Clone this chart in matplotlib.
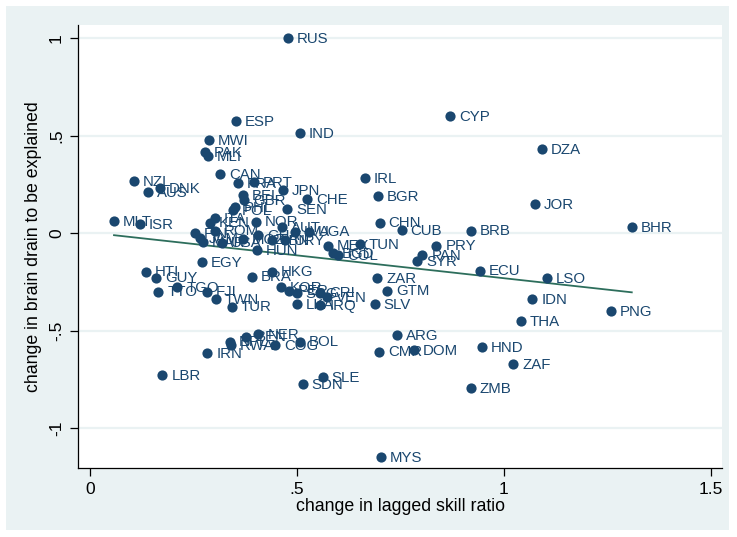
import matplotlib
matplotlib.use("Agg")
import matplotlib.pyplot as plt
from matplotlib.patches import Rectangle
import numpy as np

plt.rcParams['font.family'] = ['Liberation Sans', 'DejaVu Sans']

# country codes and values
codes = ["RUS", "ESP", "IND", "CYP", "DZA", "MWI", "PAK", "MLI", "NZL", "DNK",
         "AUS", "CAN", "FRA", "PRT", "JPN", "IRL", "BGR", "CHE", "BEL", "GBR",
         "PHL", "POL", "SEN", "CHN", "CUB", "BRB", "JOR", "BHR", "MLT", "ISR",
         "ITA", "KEN", "NOR", "AUT", "LVA", "UGA", "URY", "LBN", "HUN", "FIN",
         "ROM", "JAM", "MAR", "USA", "MOZ", "GHA", "MEX", "TUN", "BGD", "COL",
         "PRY", "PAN", "SYR", "ECU", "LSO", "IDN", "THA", "PNG", "ZAR", "GTM",
         "SLV", "EGY", "HTI", "GUY", "TTO", "TGO", "FJI", "TWN", "TUR", "BRA",
         "HKG", "KOR", "PER", "SCG", "CRI", "VEN", "LKA", "IRQ", "ARG", "CMR",
         "DOM", "HND", "ZAF", "ZMB", "MYS", "IRN", "NPL", "RWA", "BEN", "NER",
         "COG", "BOL", "LBR", "SDN", "SLE"]

skill = [0.478, 0.353, 0.507, 0.870, 1.092, 0.287, 0.278, 0.285, 0.106, 0.169,
         0.140, 0.314, 0.357, 0.396, 0.466, 0.664, 0.696, 0.524, 0.369, 0.372,
         0.350, 0.346, 0.476, 0.700, 0.753, 0.920, 1.075, 1.309, 0.058, 0.121,
         0.302, 0.290, 0.401, 0.464, 0.495, 0.529, 0.470, 0.439, 0.403, 0.254,
         0.302, 0.266, 0.273, 0.319, 0.369, 0.406, 0.575, 0.652, 0.587, 0.599,
         0.837, 0.803, 0.791, 0.942, 1.103, 1.069, 1.041, 1.258, 0.694, 0.717,
         0.688, 0.271, 0.135, 0.159, 0.165, 0.211, 0.283, 0.304, 0.342, 0.391,
         0.440, 0.461, 0.481, 0.499, 0.556, 0.573, 0.499, 0.556, 0.742, 0.699,
         0.783, 0.946, 1.022, 0.920, 0.703, 0.283, 0.338, 0.340, 0.378, 0.407,
         0.447, 0.507, 0.175, 0.514, 0.562]

brain = [1.000, 0.574, 0.513, 0.600, 0.431, 0.477, 0.415, 0.395, 0.267, 0.231,
         0.210, 0.303, 0.256, 0.262, 0.221, 0.282, 0.190, 0.174, 0.195, 0.169,
         0.133, 0.118, 0.123, 0.054, 0.015, 0.012, 0.149, 0.031, 0.062, 0.044,
         0.077, 0.054, 0.058, 0.032, 0.007, 0.007, -0.036, -0.036, -0.087, -0.002,
         0.012, -0.026, -0.045, -0.050, -0.031, -0.010, -0.065, -0.056, -0.103, -0.113,
         -0.065, -0.114, -0.144, -0.193, -0.232, -0.340, -0.451, -0.400, -0.231, -0.296,
         -0.364, -0.150, -0.198, -0.229, -0.301, -0.278, -0.301, -0.338, -0.378, -0.224,
         -0.198, -0.278, -0.296, -0.309, -0.306, -0.330, -0.364, -0.369, -0.523, -0.609,
         -0.600, -0.585, -0.672, -0.795, -1.149, -0.617, -0.557, -0.574, -0.532, -0.518,
         -0.574, -0.557, -0.728, -0.776, -0.740]

xticks = [0, 0.5, 1, 1.5]
xticklabels = ["0", ".5", "1", "1.5"]
yticks = [-1, -0.5, 0, 0.5, 1]
yticklabels = ["-1", "-.5", "0", ".5", "1"]

navy = "#1a476f"
bg = "#eaf2f3"

fig = plt.figure(figsize=(7.37, 5.37), dpi=100, facecolor="white")
# light panel behind the plot area
fig.add_artist(Rectangle((6 / 737, 7 / 537), 723 / 737, 524 / 537,
                         transform=fig.transFigure, facecolor=bg,
                         edgecolor="none", zorder=-10))
ax = fig.add_axes([78 / 737, 1 - 468 / 537, 644 / 737, 443 / 537])
ax.set_facecolor("white")

x = np.array(skill)
y = np.array(brain)
ax.scatter(x, y, s=54, color=navy, zorder=3, linewidths=0)
for c, xi, yi in zip(codes, x, y):
    ax.annotate(c, (xi, yi), xytext=(6.5, -0.5), textcoords="offset points",
                va="center", ha="left", fontsize=10.8, color=navy, zorder=4)

# linear fit
b, a = np.polyfit(x, y, 1)
xl = np.array([x.min(), x.max()])
ax.plot(xl, a + b * xl, color="#2d6e5c", lw=1.3, zorder=2)

ax.set_xlim(-0.029, 1.527)
ax.set_ylim(-1.205, 1.067)
ax.set_xticks(xticks)
ax.set_xticklabels(xticklabels, fontsize=12.5)
ax.set_yticks(yticks)
ax.set_yticklabels(yticklabels, fontsize=12.5, rotation=90, va="center")
ax.grid(axis="y", color=bg, lw=1.6, zorder=1)
ax.set_axisbelow(True)
for s in ["top", "right"]:
    ax.spines[s].set_visible(False)
for s in ["left", "bottom"]:
    ax.spines[s].set_linewidth(0.9)
ax.tick_params(direction="out", length=6, width=0.9, pad=4)
ax.set_xlabel("change in lagged skill ratio", fontsize=12.8, labelpad=1)
ax.set_ylabel("change in brain drain to be explained", fontsize=12.8, labelpad=5)

fig.savefig("out.png", dpi=100, facecolor="white")
